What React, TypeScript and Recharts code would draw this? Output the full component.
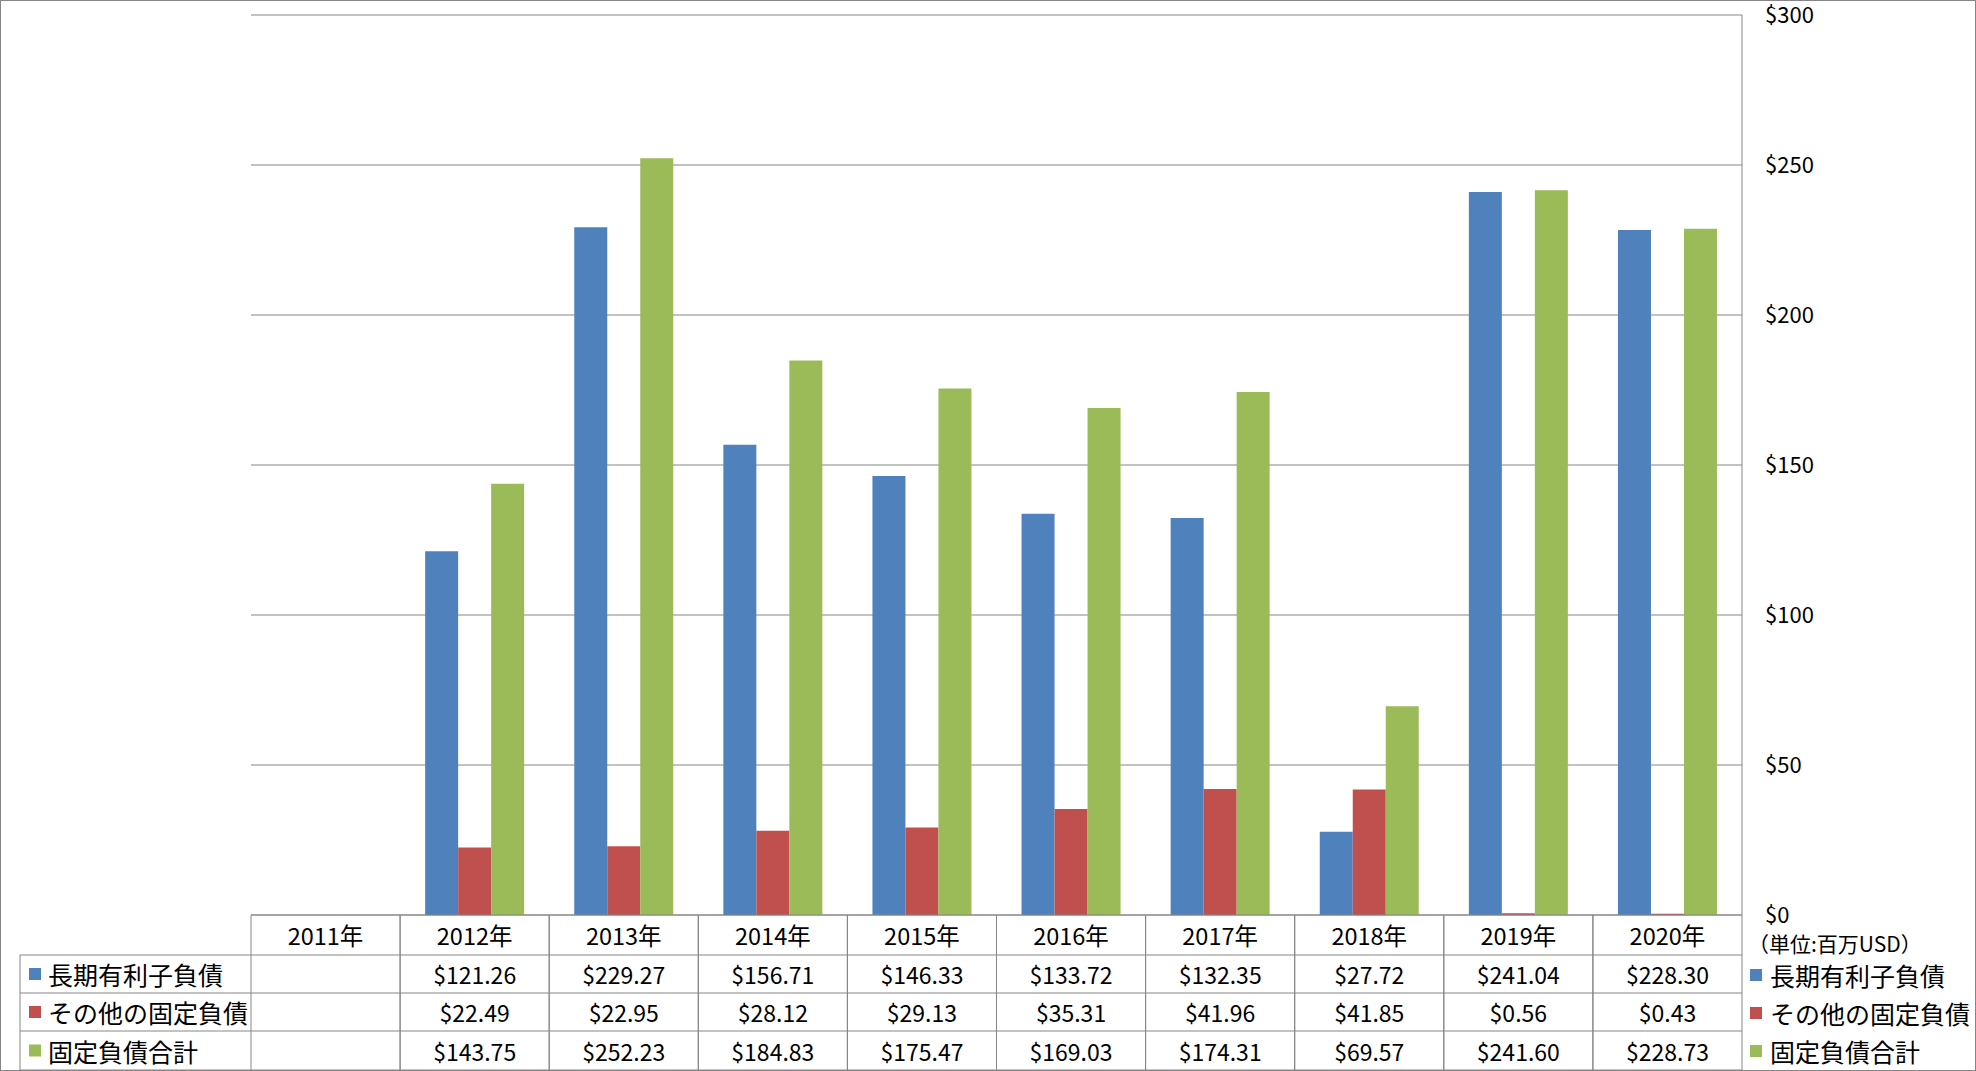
import React from 'react';
import { BarChart, Bar, XAxis, YAxis, CartesianGrid, Legend } from 'recharts';

const years = ['2011年', '2012年', '2013年', '2014年', '2015年', '2016年', '2017年', '2018年', '2019年', '2020年'];
const longTermDebt = [null, 121.26, 229.27, 156.71, 146.33, 133.72, 132.35, 27.72, 241.04, 228.3];
const otherFixedDebt = [null, 22.49, 22.95, 28.12, 29.13, 35.31, 41.96, 41.85, 0.56, 0.43];
const totalFixedDebt = [null, 143.75, 252.23, 184.83, 175.47, 169.03, 174.31, 69.57, 241.6, 228.73];
const seriesNames = ['長期有利子負債', 'その他の固定負債', '固定負債合計'];
const seriesKeys = ['debt', 'other', 'total'];
const seriesColors = ['#4F81BD', '#C0504D', '#9BBB59'];
const yTicks = [0, 50, 100, 150, 200, 250, 300];
const unitNote = '（単位:百万USD）';

const W = 1976;
const H = 1071;
const PLOT_LEFT = 251;
const PLOT_RIGHT = 1742;
const PLOT_TOP = 15;
const PLOT_BOTTOM = 915;
const COL_W = (PLOT_RIGHT - PLOT_LEFT) / years.length;
const ROW_Y = [915, 955, 993, 1031, 1070];
const LABEL_LEFT = 20;
const FONT = '"Noto Sans CJK JP", "Noto Sans", sans-serif';
const LINE = '#868686';

const seriesValues = [longTermDebt, otherFixedDebt, totalFixedDebt];
const data = years.map((year, i) => ({
  year,
  debt: longTermDebt[i],
  other: otherFixedDebt[i],
  total: totalFixedDebt[i],
}));

const fmt = (v: number | null) => (v == null ? '' : `$${v.toFixed(2)}`);

function TableTick(props: any) {
  const { x, payload, index } = props;
  const l = x - COL_W / 2;
  const r = x + COL_W / 2;
  const mid = (a: number, b: number) => (a + b) / 2;

  return (
    <g>
      {/* column borders */}
      <line x1={l} x2={l} y1={ROW_Y[0]} y2={ROW_Y[4]} stroke={LINE} />
      <line x1={r} x2={r} y1={ROW_Y[0]} y2={ROW_Y[4]} stroke={LINE} />
      {ROW_Y.map((y) => (
        <line key={y} x1={l} x2={r} y1={y} y2={y} stroke={LINE} />
      ))}
      <text x={x} y={mid(ROW_Y[0], ROW_Y[1])} textAnchor="middle" dominantBaseline="central" fontSize={23.5} fill="#000">
        {payload.value}
      </text>
      {seriesValues.map((vals, s) => (
        <text
          key={s}
          x={x}
          y={mid(ROW_Y[s + 1], ROW_Y[s + 2])}
          textAnchor="middle"
          dominantBaseline="central"
          fontSize={23}
          fill="#000"
        >
          {fmt(vals[index])}
        </text>
      ))}
      {/* row label column, drawn once at the first category */}
      {index === 0 && (
        <g>
          <line x1={LABEL_LEFT} x2={LABEL_LEFT} y1={ROW_Y[1]} y2={ROW_Y[4]} stroke={LINE} />
          {ROW_Y.slice(1).map((y) => (
            <line key={y} x1={LABEL_LEFT} x2={l} y1={y} y2={y} stroke={LINE} />
          ))}
          {seriesNames.map((name, s) => {
            const cy = mid(ROW_Y[s + 1], ROW_Y[s + 2]);
            return (
              <g key={name}>
                <rect x={LABEL_LEFT + 9} y={cy - 6} width={12} height={12} fill={seriesColors[s]} />
                <text x={LABEL_LEFT + 28} y={cy} dominantBaseline="central" fontSize={25} fill="#000">
                  {name}
                </text>
              </g>
            );
          })}
        </g>
      )}
    </g>
  );
}

// legend drawn in series order (not alphabetically sorted)
function RightLegend() {
  return (
    <div style={{ fontFamily: FONT, color: '#000' }}>
      <div style={{ height: 26, lineHeight: '26px', fontSize: 21, marginLeft: -2, whiteSpace: 'nowrap' }}>{unitNote}</div>
      {seriesNames.map((name, s) => (
        <div key={name} style={{ height: 38, display: 'flex', alignItems: 'center' }}>
          <span style={{ display: 'inline-block', width: 12, height: 12, background: seriesColors[s], marginRight: 8 }} />
          <span style={{ fontSize: 25, whiteSpace: 'nowrap' }}>{name}</span>
        </div>
      ))}
    </div>
  );
}

export default function App() {
  return (
    <div style={{ position: 'absolute', left: 0, top: 0, width: W, height: H, background: '#fff' }}>
      <BarChart
        width={W}
        height={H}
        data={data}
        margin={{ top: PLOT_TOP, right: 0, left: PLOT_LEFT, bottom: 0 }}
        barCategoryGap="16.8%"
        barGap={0}
        style={{ fontFamily: FONT }}
      >
        <CartesianGrid vertical={false} stroke={LINE} />
        <XAxis
          dataKey="year"
          height={H - PLOT_BOTTOM}
          axisLine={false}
          tickLine={false}
          tickSize={0}
          tickMargin={0}
          interval={0}
          tick={(p: any) => <TableTick {...p} />}
        />
        <YAxis
          orientation="right"
          width={W - PLOT_RIGHT}
          domain={[0, 300]}
          ticks={yTicks}
          tickFormatter={(v: number) => `$${v}`}
          axisLine={{ stroke: LINE }}
          tickLine={false}
          tickSize={0}
          tickMargin={23}
          tick={{ fill: '#000', fontSize: 22, textAnchor: 'start' }}
        />
        <Legend
          layout="vertical"
          align="center"
          verticalAlign="middle"
          content={<RightLegend />}
          wrapperStyle={{ left: 1750, top: 930, width: 226, height: 140 }}
        />
        {seriesKeys.map((k, s) => (
          <Bar key={k} dataKey={k} name={seriesNames[s]} fill={seriesColors[s]} isAnimationActive={false} />
        ))}
      </BarChart>
      <div
        style={{
          position: 'absolute',
          left: 0,
          top: 0,
          width: W,
          height: H,
          border: `1px solid ${LINE}`,
          boxSizing: 'border-box',
          pointerEvents: 'none',
        }}
      />
    </div>
  );
}
